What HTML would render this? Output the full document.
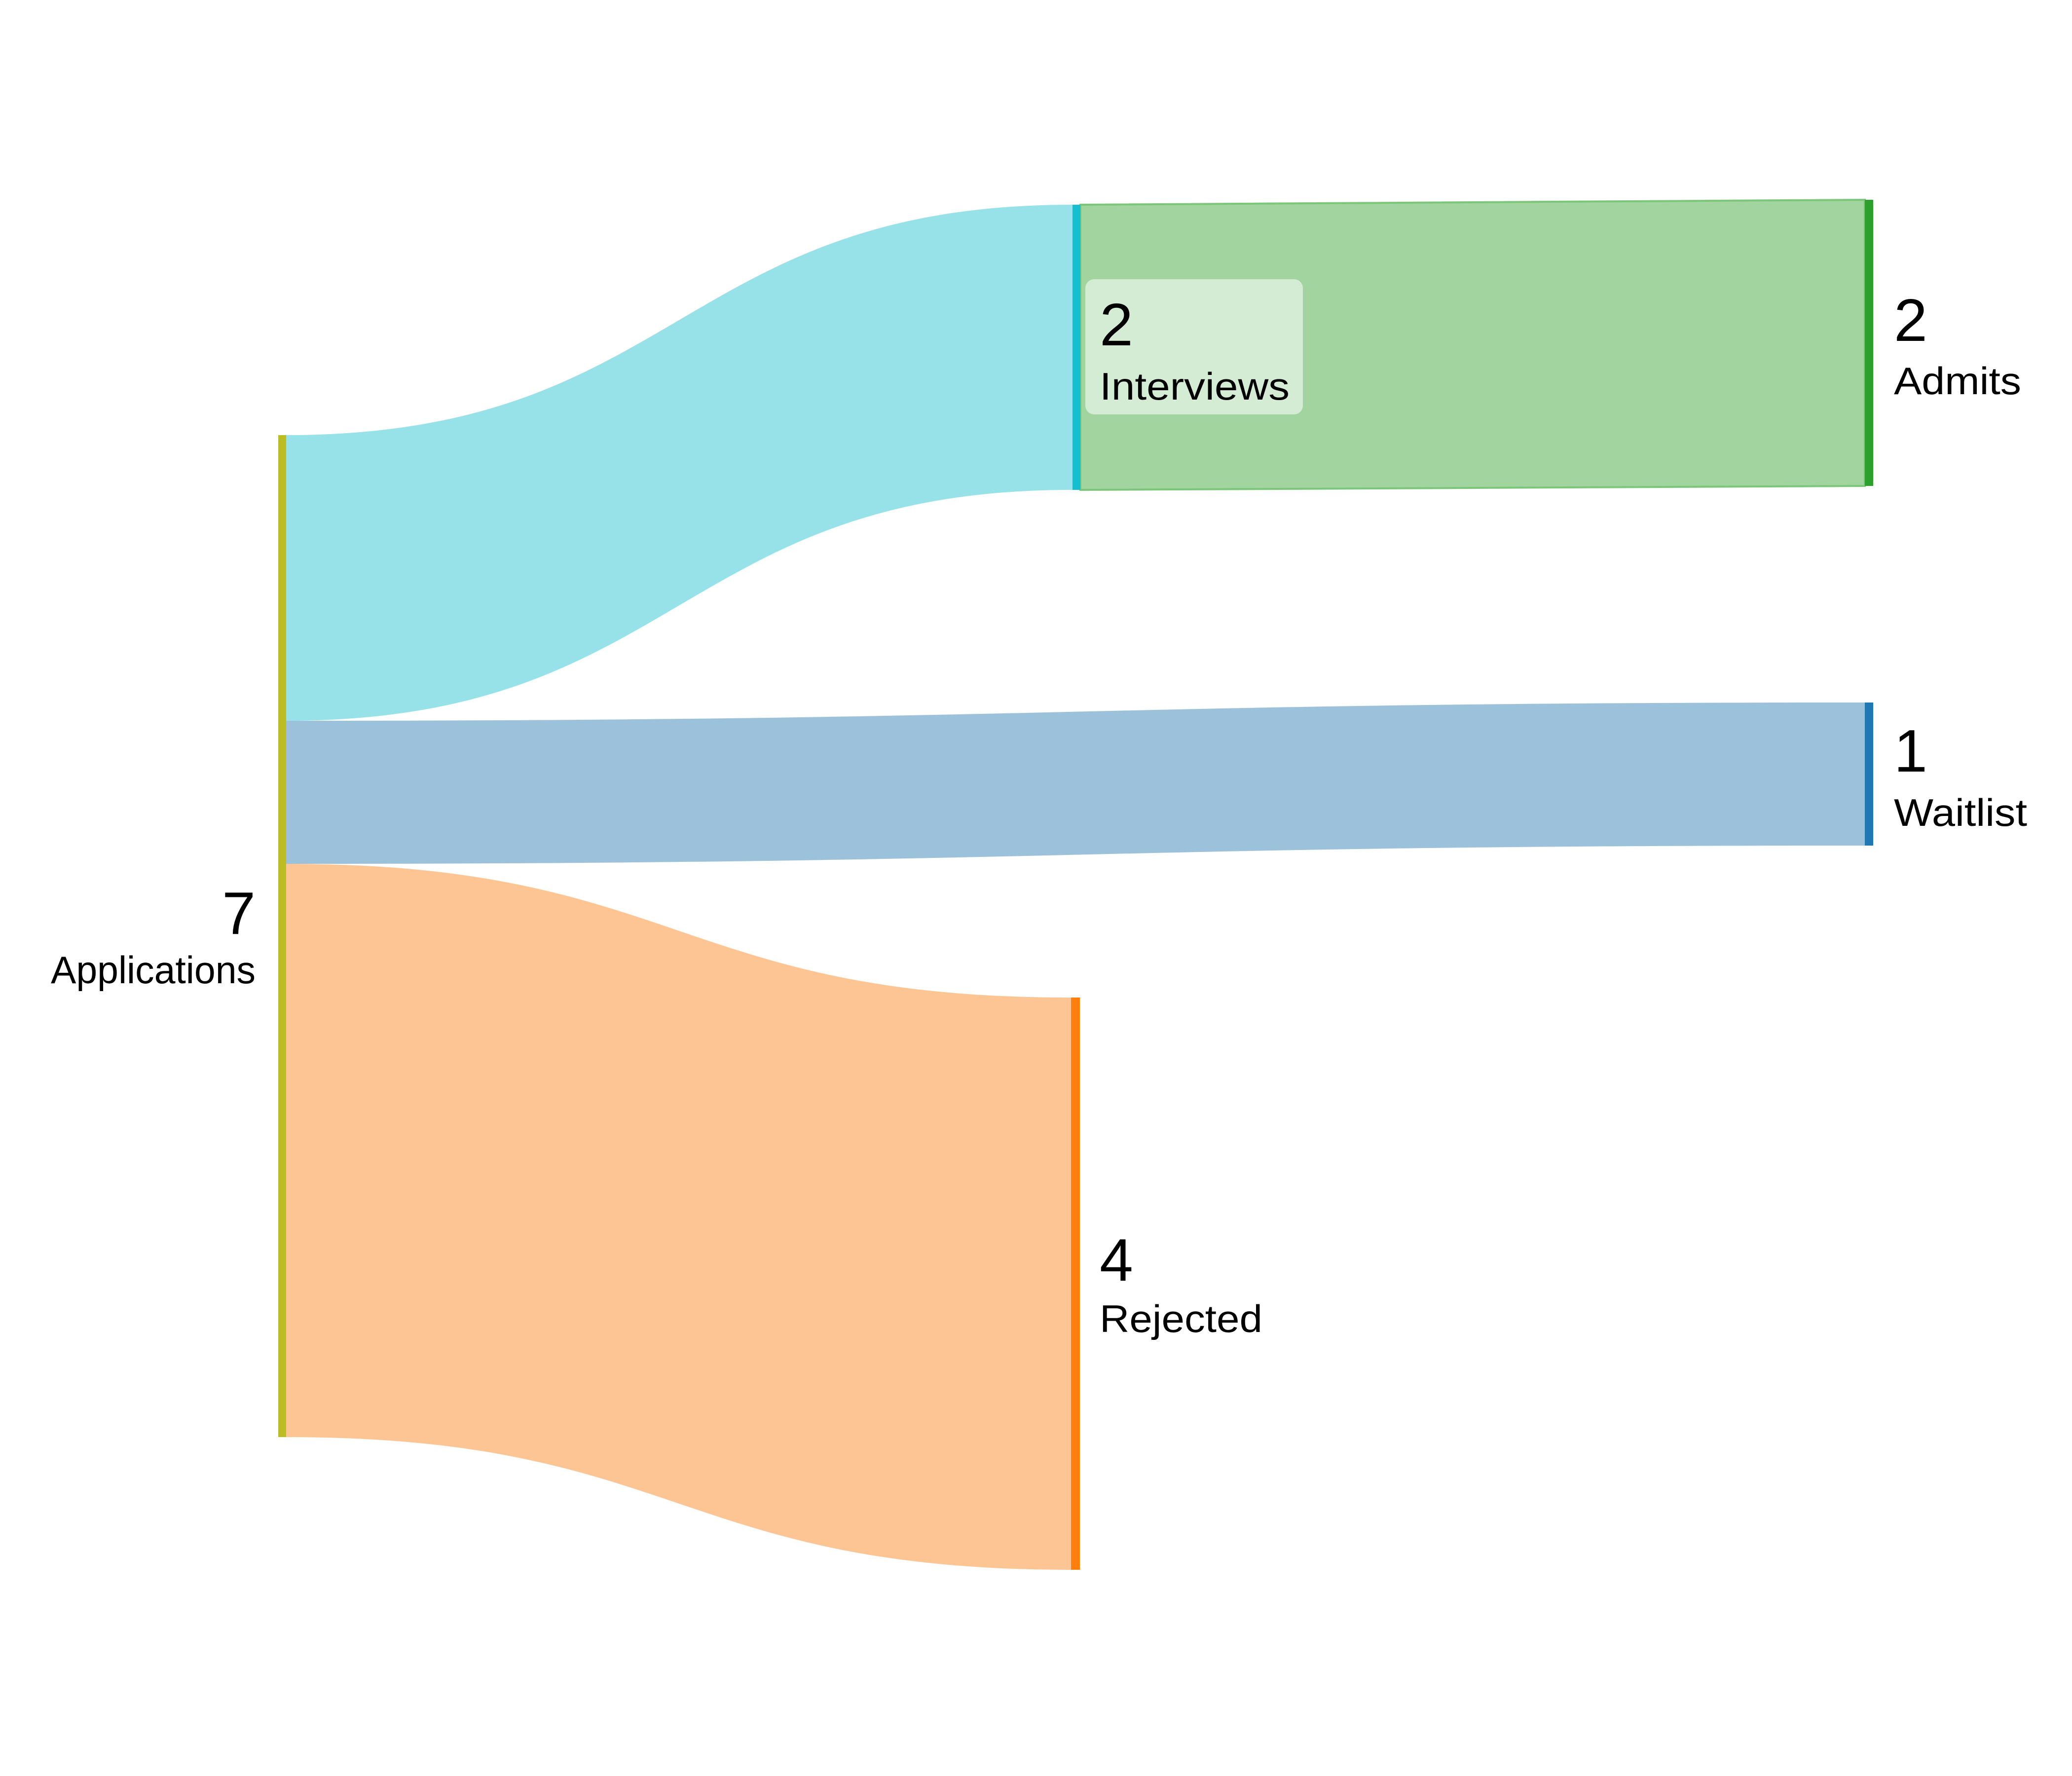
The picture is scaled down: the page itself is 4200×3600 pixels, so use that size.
<!DOCTYPE html>
<html><head><meta charset="utf-8"><style>
html,body{margin:0;padding:0;background:#fff;}
svg{display:block;}
text{font-family:"Liberation Sans",Arial,sans-serif;fill:#000;}
</style></head><body>
<svg width="4200" height="3600" viewBox="0 0 4200 3600" xmlns="http://www.w3.org/2000/svg">
<rect width="4200" height="3600" fill="#fff"/>
<path d="M580,882 C1377,882 1377,415 2174,415 L2174,993 C1377,993 1377,1461 580,1461 Z" fill="#97e2e8"/>
<path d="M580,1461 C2188,1461 2188,1424 3780,1424 L3780,1714 C2188,1714 2188,1751 580,1751 Z" fill="#9cc1db"/>
<path d="M580,1751 C1375,1751 1375,2022 2171,2022 L2171,3182 C1375,3182 1375,2913 580,2913 Z" fill="#fdc594"/>
<path d="M2190,415 L3780,405 L3780,985 L2190,993 Z" fill="#a1d49f" stroke="#7cc67a" stroke-width="4"/>
<rect x="564" y="882" width="16" height="2031" fill="#bcbd22"/>
<rect x="2174" y="415" width="16" height="578" fill="#17becf"/>
<rect x="2171" y="2022" width="18" height="1160" fill="#ff7f0e"/>
<rect x="3780" y="405" width="17" height="580" fill="#2ca02c"/>
<rect x="3780" y="1424" width="17" height="290" fill="#1f77b4"/>
<rect x="2200" y="566" width="441" height="274" rx="18" fill="#fff" fill-opacity="0.55"/>
<text x="518" y="1893" font-size="122" text-anchor="end">7</text>
<text x="518" y="1993" font-size="78" text-anchor="end" textLength="415" lengthAdjust="spacingAndGlyphs">Applications</text>
<text x="2229" y="700" font-size="122">2</text>
<text x="2229" y="810" font-size="78" textLength="385" lengthAdjust="spacingAndGlyphs">Interviews</text>
<text x="2229" y="2596" font-size="122">4</text>
<text x="2229" y="2700" font-size="78" textLength="330" lengthAdjust="spacingAndGlyphs">Rejected</text>
<text x="3839" y="691" font-size="122">2</text>
<text x="3839" y="799" font-size="78" textLength="258" lengthAdjust="spacingAndGlyphs">Admits</text>
<text x="3839" y="1564" font-size="122">1</text>
<text x="3839" y="1674" font-size="78" textLength="270" lengthAdjust="spacingAndGlyphs">Waitlist</text>
</svg>
</body></html>
